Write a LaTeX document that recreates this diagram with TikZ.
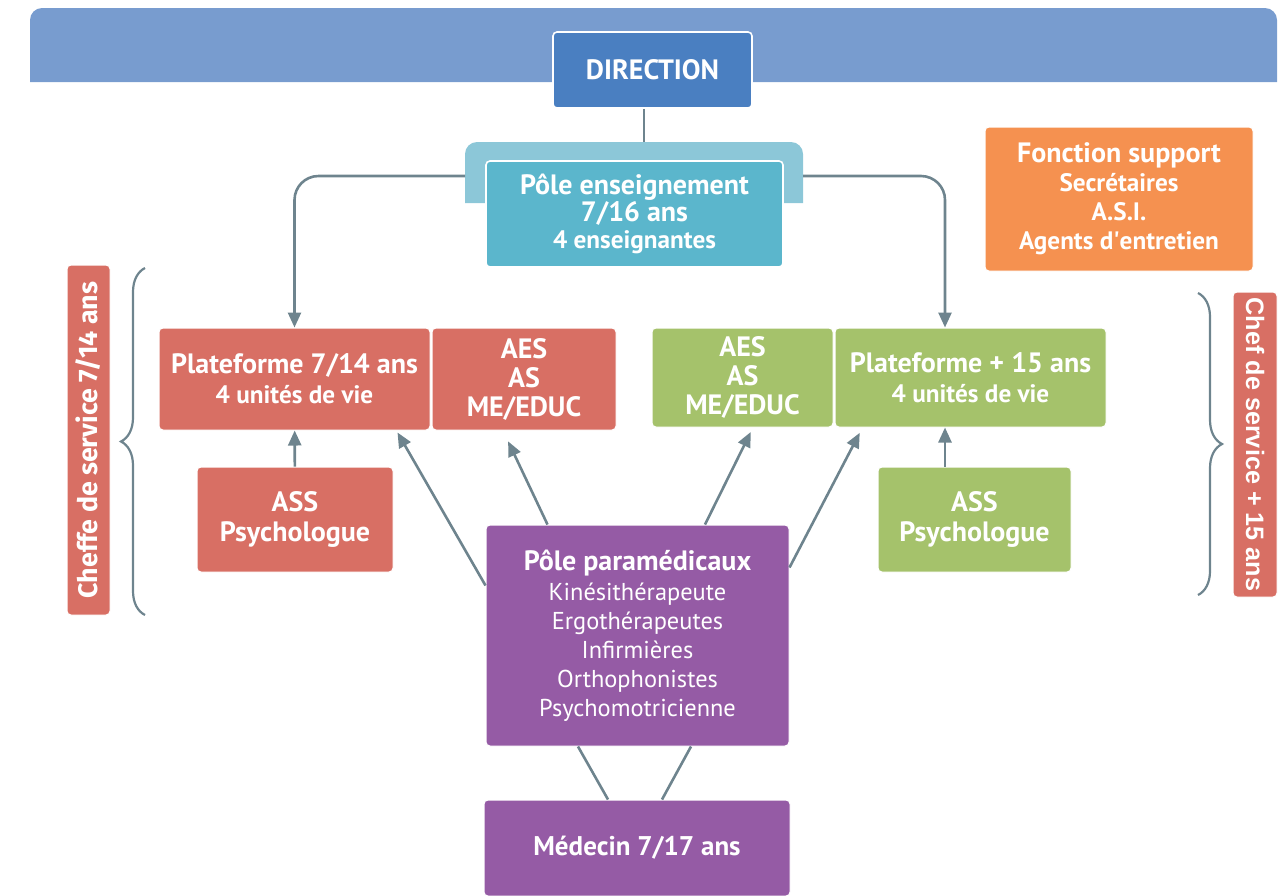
\documentclass[tikz,border=0pt]{standalone}
\usepackage{fontspec}
\setmainfont{PT Sans}
\newfontfamily\sidefont{Fira Sans}
\newfontfamily\sidefontb{Liberation Sans}
\usetikzlibrary{arrows.meta,decorations.pathreplacing}
\definecolor{bannerblue}{HTML}{789CCF}
\definecolor{dirblue}{HTML}{4A7FC1}
\definecolor{tabblue}{HTML}{8CC7D8}
\definecolor{ensblue}{HTML}{5BB6CC}
\definecolor{platred}{HTML}{D86F64}
\definecolor{platgreen}{HTML}{A5C26B}
\definecolor{parapurple}{HTML}{955BA5}
\definecolor{suporange}{HTML}{F59150}
\definecolor{linegray}{HTML}{6E848E}
\newcommand\subline[1]{{\fontsize{12.6}{14.5}\selectfont #1}}
\newcommand\lite[1]{{\mdseries\fontsize{12.2}{14.8}\selectfont #1}}
\begin{document}
\begin{tikzpicture}[x=0.5pt,y=-0.5pt,
  every node/.style={font=\bfseries\fontsize{14}{14.5}\selectfont,text=white,align=center,inner sep=0pt},
  box/.style={rectangle,rounded corners=2pt,draw=white,line width=0.5pt},
  link/.style={draw=linegray,line width=1.3pt},
  arr/.style={link,-{Triangle[length=7.5pt,width=6.5pt]}},
  brace/.style={draw=linegray,line width=1.1pt,decorate,decoration={brace,amplitude=12pt}}]
  \clip (0,0) rectangle (1284,895);
  % bandeau
  \fill [bannerblue] (30,82) [rounded corners=6pt] -- (30,8) -- (1277,8) [sharp corners] -- (1277,82) -- cycle;
  \fill [tabblue] (465,203) [rounded corners=6pt] -- (465,142) -- (803,142) [sharp corners] -- (803,203) -- cycle;
  \coordinate (tabtop) at (644,142);
  \coordinate (tabL) at (465,176);
  \coordinate (tabR) at (803,176);
  \coordinate (p2in) at (945,0);

  \node [box,fill=dirblue,minimum width=99.5pt,minimum height=38pt,line width=0.8pt] (direction) at (652.5,70) {DIRECTION};
  \node [box,fill=ensblue,minimum width=148.5pt,minimum height=53pt,line width=0.8pt] (ens) at (634.5,214)
    {Pôle enseignement\\[-1pt]7/16 ans\\[-1pt]\subline{4 enseignantes}};
  \node [box,fill=suporange,minimum width=134pt,minimum height=72pt] (support) at (1119,199)
    {Fonction support\\\subline{Secrétaires}\\\subline{A.S.I.}\\\subline{Agents d\textquotesingle entretien}};

  \node [box,fill=platred,minimum width=135.5pt,minimum height=51pt] (plat1) at (294.5,379)
    {Plateforme 7/14 ans\\[0.5pt]\subline{4 unités de vie}};
  \node [box,fill=platred,minimum width=92pt,minimum height=51pt] (aes1) at (524,379)
    {AES\\AS\\ME/EDUC};
  \node [box,fill=platgreen,minimum width=90.5pt,minimum height=49.5pt] (aes2) at (742.5,377.5)
    {AES\\AS\\ME/EDUC};
  \node [box,fill=platgreen,minimum width=135.5pt,minimum height=49.5pt] (plat2) at (970.5,377.5)
    {Plateforme + 15 ans\\[0.5pt]\subline{4 unités de vie}};
  \node [box,fill=platred,minimum width=98pt,minimum height=52.5pt] (ass1) at (295,519.5) {ASS\\[0.5pt]Psychologue};
  \node [box,fill=platgreen,minimum width=96.5pt,minimum height=52.5pt] (ass2) at (974.5,519.5) {ASS\\[0.5pt]Psychologue};
  \node [box,fill=parapurple,minimum width=151.5pt,minimum height=110.5pt] (para) at (637.5,635.5)
    {Pôle paramédicaux\\[0.5pt]\lite{Kinésithérapeute}\\\lite{Ergothérapeutes}\\\lite{Infirmières}\\\lite{Orthophonistes}\\\lite{Psychomotricienne}};
  \node [box,fill=parapurple,minimum width=153pt,minimum height=48pt,font=\bfseries\fontsize{13.5}{14.5}\selectfont] (med) at (637,848) {Médecin 7/17 ans};

  \node [box,fill=platred,rotate=90,minimum width=175pt,minimum height=21.5pt,font=\sidefont\bfseries\fontsize{13.4}{14}\selectfont] (chef1) at (88.5,440) {Cheffe de service 7/14 ans};
  \node [box,fill=platred,rotate=-90,minimum width=152.5pt,minimum height=22pt,font=\sidefontb\bfseries\fontsize{12.6}{14}\selectfont] (chef2) at (1255,444.5) {Chef de service + 15 ans};

  % liaisons
  \draw [link] (direction.south -| tabtop) -- (tabtop);
  \draw [arr,rounded corners=12pt] (tabL) -| (plat1.north);
  \draw [arr,rounded corners=12pt] (tabR) -| (plat2.north -| p2in);
  \draw [arr] (ass1) -- (plat1);
  \draw [arr] (ass2.north -| p2in) -- (plat2.south -| p2in);
  \draw [arr] ([yshift=25pt]para.west) -- ([xshift=-16.5pt,yshift=-1pt]plat1.south east);
  \draw [arr,shorten >=6pt] ([xshift=31pt]para.north west) -- ([xshift=-10.5pt]aes1.south);
  \draw [arr,shorten >=2.5pt] ([xshift=33.75pt]para.north) -- ([xshift=5.25pt]aes2.south);
  \draw [arr,shorten >=3pt] ([yshift=34pt]para.east) -- ([xshift=14pt]plat2.south west);
  \draw [link] ([xshift=-29.75pt]para.south) -- ([xshift=-14.5pt]med.north);
  \draw [link] ([xshift=26.75pt]para.south) -- ([xshift=12.5pt]med.north);

  % accolades
  \draw [brace] (145,615) -- (145,268);
  \draw [brace] (1198,293) -- (1198,595);
\end{tikzpicture}
\end{document}
